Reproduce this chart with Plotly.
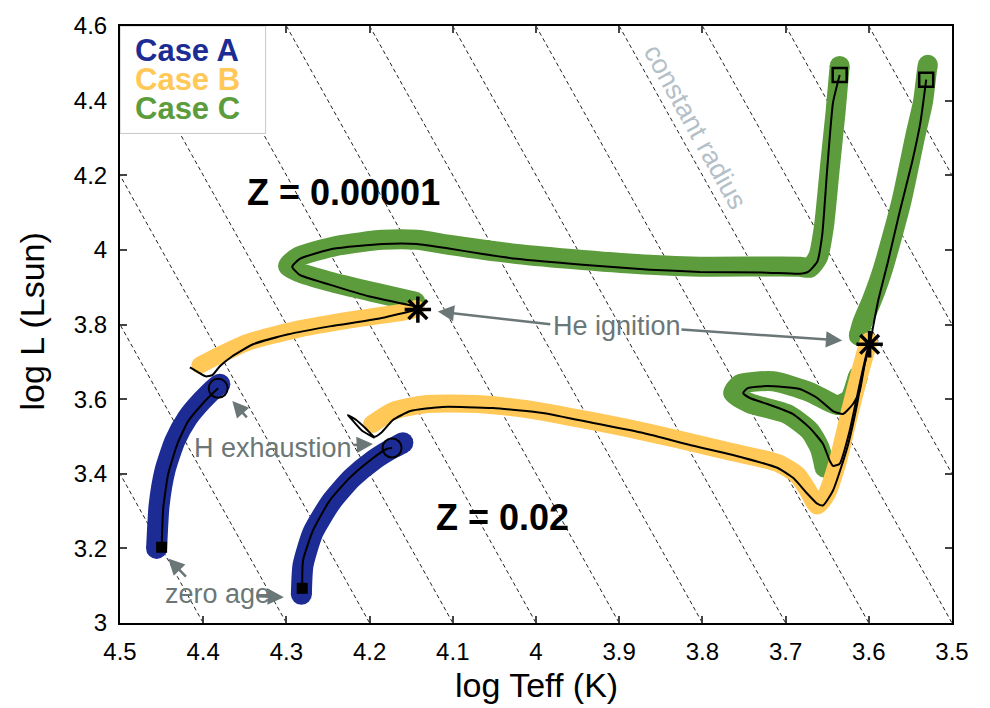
import plotly.graph_objects as go

# ---------------- data (log Teff, log L) ----------------
# constant-radius guide lines: log Teff where each line meets log L = 4.6
radius_T0 = [4.8, 4.7, 4.6, 4.5, 4.4, 4.3, 4.2, 4.1, 4.0, 3.9, 3.8, 3.7, 3.6]

# Z = 0.00001
lowZ_A_band_T = [4.456, 4.453, 4.446, 4.434, 4.419, 4.401, 4.385, 4.380]
lowZ_A_band_L = [3.200, 3.315, 3.408, 3.488, 3.549, 3.597, 3.632, 3.640]
lowZ_A_T = [4.450, 4.448, 4.442, 4.431, 4.418, 4.401, 4.386, 4.382]
lowZ_A_L = [3.203, 3.309, 3.400, 3.480, 3.541, 3.587, 3.621, 3.629]

lowZ_B_band_T = [4.404, 4.386, 4.347, 4.287, 4.227, 4.151, 4.144]
lowZ_B_band_L = [3.691, 3.712, 3.752, 3.787, 3.811, 3.837, 3.843]
lowZ_B_T = [4.416, 4.406, 4.397, 4.389, 4.380, 4.365, 4.340, 4.299, 4.248, 4.188, 4.142]
lowZ_B_L = [3.685, 3.672, 3.661, 3.664, 3.688, 3.715, 3.747, 3.773, 3.795, 3.816, 3.840]

lowZ_C_band_T = [4.145, 4.188, 4.248, 4.286, 4.298, 4.286, 4.239, 4.184, 4.143, 4.103, 4.023,
                 3.944, 3.863, 3.803, 3.683, 3.671, 3.661, 3.654, 3.647, 3.640, 3.635]
lowZ_C_band_L = [3.861, 3.883, 3.915, 3.941, 3.957, 3.981, 4.011, 4.027, 4.027, 4.013, 3.989,
                 3.973, 3.960, 3.955, 3.955, 3.952, 3.981, 4.061, 4.216, 4.368, 4.493]
lowZ_C_T = [4.143, 4.200, 4.248, 4.284, 4.293, 4.284, 4.244, 4.184, 4.143, 4.103, 4.064, 4.023,
            3.944, 3.863, 3.803, 3.722, 3.683, 3.673, 3.662, 3.656, 3.650, 3.643, 3.635]
lowZ_C_L = [3.848, 3.875, 3.907, 3.933, 3.955, 3.976, 4.003, 4.016, 4.016, 4.003, 3.989, 3.976,
            3.960, 3.947, 3.941, 3.939, 3.936, 3.941, 3.968, 4.040, 4.216, 4.395, 4.469]

# Z = 0.02
solZ_A_band_T = [4.282, 4.280, 4.268, 4.246, 4.221, 4.195, 4.172, 4.160]
solZ_A_band_L = [3.077, 3.155, 3.243, 3.325, 3.389, 3.437, 3.469, 3.483]
solZ_A_T = [4.281, 4.280, 4.268, 4.248, 4.224, 4.200, 4.179, 4.173]
solZ_A_L = [3.093, 3.168, 3.248, 3.328, 3.389, 3.435, 3.467, 3.469]

solZ_B_band_T = [4.197, 4.172, 4.131, 4.071, 4.011, 3.951, 3.891, 3.831, 3.770, 3.710, 3.686,
                 3.673, 3.662, 3.651, 3.637, 3.624, 3.612, 3.603, 3.600]
solZ_B_band_L = [3.533, 3.568, 3.587, 3.587, 3.573, 3.549, 3.523, 3.493, 3.461, 3.429, 3.397,
                 3.355, 3.315, 3.344, 3.435, 3.555, 3.661, 3.733, 3.755]
solZ_B_T = [4.194, 4.209, 4.224, 4.226, 4.216, 4.204, 4.194, 4.185, 4.172, 4.151, 4.112, 4.052,
            3.992, 3.931, 3.871, 3.811, 3.751, 3.710, 3.691, 3.674, 3.662, 3.655, 3.643, 3.626,
            3.614, 3.607, 3.599]
solZ_B_L = [3.496, 3.515, 3.552, 3.557, 3.544, 3.520, 3.499, 3.512, 3.544, 3.568, 3.579, 3.576,
            3.563, 3.536, 3.509, 3.475, 3.443, 3.416, 3.389, 3.347, 3.320, 3.315, 3.355, 3.469,
            3.587, 3.675, 3.747]

solZ_C_loop_band_T = [3.653, 3.659, 3.671, 3.698, 3.743, 3.763, 3.755, 3.715, 3.671, 3.637, 3.623, 3.613]
solZ_C_loop_band_L = [3.416, 3.469, 3.515, 3.560, 3.589, 3.616, 3.640, 3.648, 3.619, 3.584, 3.600, 3.661]
solZ_C_agb_band_T = [3.612, 3.608, 3.596, 3.583, 3.561, 3.544, 3.535, 3.530, 3.529]
solZ_C_agb_band_L = [3.770, 3.803, 3.867, 3.949, 4.128, 4.307, 4.395, 4.483, 4.496]
solZ_C_T = [3.599, 3.605, 3.611, 3.619, 3.631, 3.643, 3.662, 3.683, 3.722, 3.746, 3.751, 3.743,
            3.722, 3.691, 3.671, 3.655, 3.647, 3.643, 3.635, 3.623, 3.611, 3.602, 3.599, 3.589,
            3.577, 3.563, 3.548, 3.538, 3.531]
solZ_C_L = [3.747, 3.693, 3.621, 3.587, 3.560, 3.568, 3.603, 3.627, 3.635, 3.629, 3.616, 3.603,
            3.587, 3.560, 3.523, 3.480, 3.435, 3.421, 3.427, 3.515, 3.640, 3.728, 3.747, 3.861,
            3.968, 4.101, 4.235, 4.341, 4.456]

x_ticks = [4.5, 4.4, 4.3, 4.2, 4.1, 4.0, 3.9, 3.8, 3.7, 3.6, 3.5]
x_labels = ["4.5", "4.4", "4.3", "4.2", "4.1", "4", "3.9", "3.8", "3.7", "3.6", "3.5"]
y_ticks = [3.0, 3.2, 3.4, 3.6, 3.8, 4.0, 4.2, 4.4, 4.6]
y_labels = ["3", "3.2", "3.4", "3.6", "3.8", "4", "4.2", "4.4", "4.6"]

legend_names = ["Case A", "Case B", "Case C"]
legend_y = [4.536, 4.459, 4.381]

# ---------------- styles ----------------
BLUE = "#1c2c94"
YELLOW = "#ffc857"
GREEN = "#5c9c3c"
GRAY = "#6b7777"
FONT = "Liberation Sans, Arial, sans-serif"

fig = go.Figure()

# constant radius lines: L = 4 log Teff + const
for t0 in radius_T0:
    fig.add_trace(go.Scatter(x=[t0, t0 - 0.4], y=[4.6, 3.0], mode="lines",
                             line=dict(color="#222222", width=1, dash="4px,3px"),
                             hoverinfo="skip", showlegend=False))


def band(xs, ys, color, width, caps=(True, True)):
    fig.add_trace(go.Scatter(x=xs, y=ys, mode="lines",
                             line=dict(color=color, width=width, shape="spline", smoothing=0.6),
                             hoverinfo="skip", showlegend=False))
    ex, ey = [], []
    if caps[0]:
        ex.append(xs[0]); ey.append(ys[0])
    if caps[1]:
        ex.append(xs[-1]); ey.append(ys[-1])
    if ex:
        fig.add_trace(go.Scatter(x=ex, y=ey, mode="markers",
                                 marker=dict(color=color, size=width, line=dict(width=0)),
                                 hoverinfo="skip", showlegend=False))


def track(xs, ys):
    fig.add_trace(go.Scatter(x=xs, y=ys, mode="lines",
                             line=dict(color="black", width=2, shape="spline", smoothing=0.5),
                             hoverinfo="skip", showlegend=False))


band(lowZ_C_band_T, lowZ_C_band_L, GREEN, 20)
band(solZ_C_loop_band_T, solZ_C_loop_band_L, GREEN, 20)
band(solZ_C_agb_band_T, solZ_C_agb_band_L, GREEN, 20)
band(lowZ_B_band_T, lowZ_B_band_L, YELLOW, 17)
band(solZ_B_band_T, solZ_B_band_L, YELLOW, 18)
band(lowZ_A_band_T, lowZ_A_band_L, BLUE, 21)
band(solZ_A_band_T, solZ_A_band_L, BLUE, 21)

for xs, ys in [(lowZ_A_T, lowZ_A_L), (lowZ_B_T, lowZ_B_L), (lowZ_C_T, lowZ_C_L),
               (solZ_A_T, solZ_A_L), (solZ_B_T, solZ_B_L), (solZ_C_T, solZ_C_L)]:
    track(xs, ys)

# markers: zero age (filled squares), end (open squares), H exhaustion (circles), He ignition (stars)
fig.add_trace(go.Scatter(x=[lowZ_A_T[0], solZ_A_T[0]], y=[lowZ_A_L[0], solZ_A_L[0]], mode="markers",
                         marker=dict(symbol="square", color="black", size=11),
                         hoverinfo="skip", showlegend=False))
fig.add_trace(go.Scatter(x=[lowZ_C_T[-1], solZ_C_T[-1]], y=[lowZ_C_L[-1], solZ_C_L[-1]], mode="markers",
                         marker=dict(symbol="square-open", color="black", size=14,
                                     line=dict(color="black", width=2.5)),
                         hoverinfo="skip", showlegend=False))
fig.add_trace(go.Scatter(x=[lowZ_A_T[-1], solZ_A_T[-1]], y=[lowZ_A_L[-1], solZ_A_L[-1]], mode="markers",
                         marker=dict(symbol="circle-open", color="black", size=19,
                                     line=dict(color="black", width=2)),
                         hoverinfo="skip", showlegend=False))
fig.add_trace(go.Scatter(x=[lowZ_B_T[-1], solZ_B_T[-1]], y=[lowZ_B_L[-1], solZ_B_L[-1]], mode="markers",
                         marker=dict(symbol="asterisk-open", color="black", size=22,
                                     line=dict(color="black", width=3.5)),
                         hoverinfo="skip", showlegend=False))

ann = []
# arrows (tip x,y ; tail ax,ay)
arrows = [
    (4.118, 3.835, 3.981, 3.800),
    (3.632, 3.757, 3.827, 3.787),
    (4.365, 3.595, 4.346, 3.547),
    (4.196, 3.480, 4.221, 3.477),
    (4.442, 3.173, 4.419, 3.120),
    (4.303, 3.069, 4.338, 3.072),
]
for x, y, ax, ay in arrows:
    ann.append(dict(x=x, y=y, ax=ax, ay=ay, xref="x", yref="y", axref="x", ayref="y",
                    text="", showarrow=True, arrowhead=2, arrowsize=1.3, arrowwidth=2.5,
                    arrowcolor=GRAY))

labels = [
    ("He ignition", 3.903, 3.797, 27, GRAY, False, 0),
    ("H exhaustion", 4.316, 3.469, 27, GRAY, False, 0),
    ("zero age", 4.383, 3.077, 27, GRAY, False, 0),
    ("Z = 0.00001", 4.231, 4.155, 36, "black", True, 0),
    ("Z = 0.02", 4.040, 3.283, 36, "black", True, 0),
    ("constant radius", 3.809, 4.328, 27, "#b4c0c8", False, 61),
]
for txt, x, y, size, color, bold, ang in labels:
    ann.append(dict(x=x, y=y, xref="x", yref="y", text=f"<b>{txt}</b>" if bold else txt,
                    showarrow=False, textangle=ang, font=dict(size=size, color=color, family=FONT)))

for txt, y, color in zip(legend_names, legend_y, [BLUE, YELLOW, GREEN]):
    ann.append(dict(x=4.484, y=y, xref="x", yref="y", text=f"<b>{txt}</b>", showarrow=False,
                    xanchor="left", yanchor="middle", height=28, valign="middle",
                    font=dict(size=31, color=color, family=FONT)))

# axis titles
ann.append(dict(x=0.5, y=0, xref="paper", yref="paper", yshift=-62, text="log Teff (K)",
                showarrow=False, yanchor="middle", font=dict(size=34, color="black", family=FONT)))
ann.append(dict(x=0, y=0.505, xref="paper", yref="paper", xshift=-88, text="log L (Lsun)",
                textangle=-90, showarrow=False, xanchor="center",
                font=dict(size=34, color="black", family=FONT)))

fig.update_layout(
    width=990, height=708,
    margin=dict(l=120, r=38, t=23, b=85),
    paper_bgcolor="white", plot_bgcolor="white",
    annotations=ann,
    shapes=[dict(type="rect", xref="x", yref="y", x0=4.5, x1=4.325, y0=4.6, y1=4.312,
                 fillcolor="white", line=dict(color="#c8c8c8", width=1), layer="above")],
    xaxis=dict(range=[4.5, 3.5], tickvals=x_ticks, ticktext=x_labels, ticks="inside",
               ticklen=7, tickwidth=2, showline=True, linewidth=2, linecolor="black",
               mirror="allticks", showgrid=False, zeroline=False, ticklabelstandoff=6,
               tickfont=dict(size=24, color="black", family=FONT)),
    yaxis=dict(range=[3.0, 4.6], tickvals=y_ticks, ticktext=y_labels, ticks="inside",
               ticklen=7, tickwidth=2, showline=True, linewidth=2, linecolor="black",
               mirror="allticks", showgrid=False, zeroline=False, ticklabelstandoff=6,
               tickfont=dict(size=24, color="black", family=FONT)),
)

fig.write_html("out.html", config={"displayModeBar": False},
               post_script="document.body.style.margin='0';document.body.style.overflow='hidden';")
